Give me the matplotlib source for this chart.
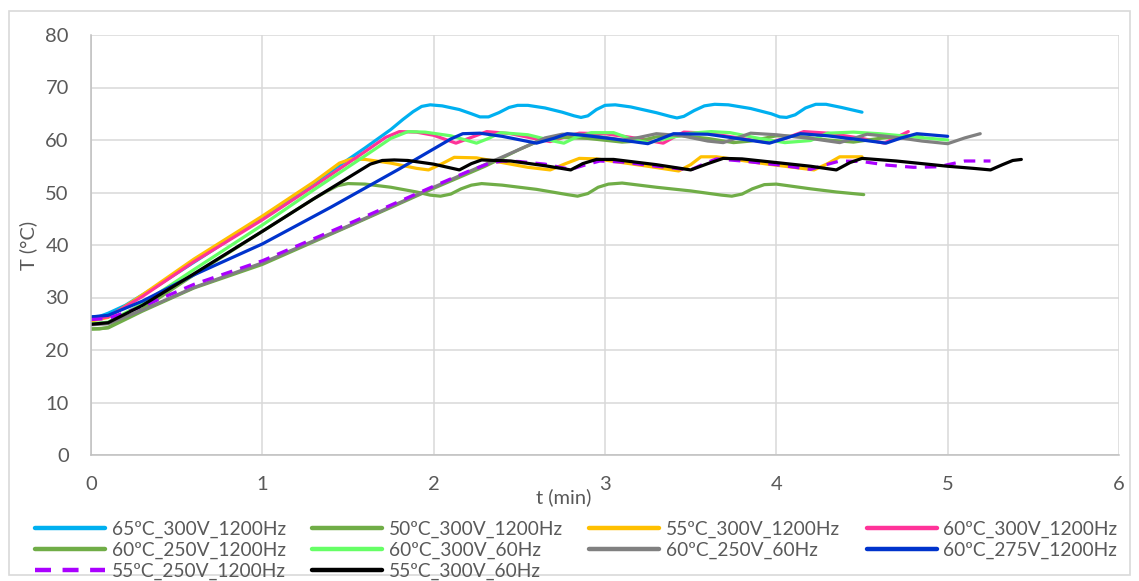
import matplotlib
matplotlib.use("Agg")
import matplotlib.pyplot as plt
from matplotlib.patches import Rectangle

# ---------------- data ----------------
t_65_300_1200 = [0, 0.05, 0.1, 0.2, 0.4, 0.7, 1.0, 1.3, 1.6, 1.75, 1.82, 1.88, 1.93, 1.98, 2.05, 2.15, 2.22, 2.27,
                 2.32, 2.38, 2.44, 2.49, 2.55, 2.65, 2.75, 2.82, 2.86, 2.9, 2.95, 3.0, 3.06, 3.15, 3.3, 3.38, 3.42,
                 3.46, 3.52, 3.58, 3.64, 3.72, 3.85, 3.97, 4.02, 4.06, 4.11, 4.17, 4.23, 4.29, 4.38, 4.5]
T_65_300_1200 = [26.3, 26.4, 27.0, 28.5, 32.5, 38.8, 45.2, 51.8, 58.5, 62.0, 63.9, 65.4, 66.4, 66.7, 66.5, 65.8, 65.0,
                 64.4, 64.4, 65.2, 66.2, 66.6, 66.6, 66.1, 65.3, 64.6, 64.3, 64.6, 65.8, 66.6, 66.7, 66.3, 65.2, 64.5,
                 64.2, 64.5, 65.6, 66.5, 66.8, 66.7, 66.0, 65.0, 64.4, 64.3, 64.8, 66.1, 66.8, 66.8, 66.2, 65.3]

t_50_300_1200 = [0, 0.05, 0.1, 0.3, 0.6, 1.0, 1.3, 1.38, 1.44, 1.5, 1.6, 1.75, 1.9, 1.98, 2.04, 2.1, 2.16, 2.22, 2.28,
                 2.4, 2.6, 2.78, 2.84, 2.9, 2.96, 3.02, 3.1, 3.3, 3.5, 3.68, 3.74, 3.8, 3.86, 3.93, 4.0, 4.2, 4.35, 4.51]
T_50_300_1200 = [24.0, 24.0, 24.3, 27.8, 34.3, 42.6, 48.8, 50.3, 51.3, 51.7, 51.6, 51.0, 50.1, 49.5, 49.3, 49.7, 50.7,
                 51.4, 51.7, 51.4, 50.6, 49.6, 49.3, 49.8, 51.0, 51.6, 51.8, 51.0, 50.3, 49.5, 49.3, 49.7, 50.7, 51.5,
                 51.6, 50.7, 50.1, 49.6]

t_55_300_1200 = [0, 0.1, 0.3, 0.6, 1.0, 1.3, 1.45, 1.52, 1.6, 1.75, 1.9, 1.97, 2.05, 2.12, 2.25, 2.4, 2.55, 2.68, 2.77,
                 2.85, 2.95, 3.1, 3.25, 3.43, 3.5, 3.56, 3.65, 3.8, 3.95, 4.1, 4.22, 4.3, 4.37, 4.5]
T_55_300_1200 = [25.5, 26.2, 30.5, 37.3, 45.5, 52.0, 55.6, 56.4, 56.3, 55.6, 54.6, 54.3, 55.5, 56.7, 56.6, 55.7, 54.8,
                 54.3, 55.5, 56.5, 56.4, 55.7, 55.0, 54.1, 55.3, 56.8, 56.8, 56.1, 55.4, 54.8, 54.3, 55.5, 56.8, 56.8]

t_60_300_1200 = [0, 0.1, 0.3, 0.6, 1.0, 1.3, 1.6, 1.72, 1.8, 1.9, 2.0, 2.13, 2.22, 2.31, 2.45, 2.6, 2.68, 2.77, 2.85,
                 3.0, 3.15, 3.34, 3.4, 3.46, 3.6, 3.8, 3.95, 4.05, 4.16, 4.3, 4.5, 4.63, 4.7, 4.77]
T_60_300_1200 = [25.8, 26.3, 30.2, 36.8, 44.8, 51.2, 57.8, 60.5, 61.6, 61.5, 60.9, 59.4, 60.5, 61.6, 61.2, 60.2, 59.7,
                 60.6, 61.3, 61.2, 60.5, 59.4, 60.5, 61.5, 61.3, 60.3, 59.5, 60.3, 61.6, 61.3, 60.3, 59.4, 60.5, 61.6]

t_60_250_1200 = [0, 0.1, 0.3, 0.6, 1.0, 1.5, 2.0, 2.3, 2.5, 2.62, 2.75, 2.9, 3.1, 3.2, 3.3, 3.45, 3.6, 3.75, 3.85,
                 4.0, 4.15, 4.3, 4.45, 4.6, 4.75, 4.85]
T_60_250_1200 = [24.0, 24.2, 27.4, 31.8, 36.3, 43.5, 50.8, 55.0, 58.2, 59.9, 60.5, 60.3, 59.6, 59.8, 60.6, 60.8, 60.3,
                 59.5, 59.8, 60.8, 60.6, 60.0, 59.6, 60.3, 60.8, 60.6]

t_60_300_60 = [0, 0.1, 0.3, 0.6, 1.0, 1.3, 1.6, 1.75, 1.85, 1.95, 2.1, 2.25, 2.32, 2.39, 2.55, 2.7, 2.76, 2.83, 2.92,
               3.05, 3.17, 3.25, 3.35, 3.5, 3.62, 3.73, 3.9, 4.05, 4.2, 4.3, 4.45, 4.6, 4.8, 5.0]
T_60_300_60 = [25.0, 25.3, 28.8, 35.3, 43.8, 50.5, 57.0, 60.3, 61.6, 61.5, 60.8, 59.4, 60.3, 61.4, 61.0, 59.8, 59.4,
               60.5, 61.4, 61.4, 60.0, 59.5, 60.2, 61.3, 61.6, 61.4, 60.3, 59.5, 59.9, 61.3, 61.5, 61.2, 60.6, 60.0]

t_60_250_60 = [0, 0.1, 0.3, 0.6, 1.0, 1.5, 2.0, 2.27, 2.5, 2.65, 2.75, 2.85, 3.0, 3.1, 3.2, 3.3, 3.45, 3.6, 3.69,
               3.78, 3.85, 4.0, 4.2, 4.37, 4.45, 4.53, 4.7, 4.85, 5.0, 5.1, 5.19]
T_60_250_60 = [24.8, 25.0, 27.6, 31.9, 36.6, 43.6, 51.0, 54.9, 58.2, 60.4, 61.1, 61.1, 60.5, 60.0, 60.5, 61.2, 60.8,
               59.8, 59.5, 60.5, 61.3, 61.0, 60.3, 59.5, 60.3, 61.1, 60.5, 59.8, 59.3, 60.4, 61.2]

t_60_275_1200 = [0, 0.1, 0.3, 0.6, 1.0, 1.4, 1.8, 2.0, 2.1, 2.17, 2.27, 2.4, 2.6, 2.7, 2.78, 2.9, 3.05, 3.25, 3.33,
                 3.4, 3.6, 3.75, 3.96, 4.05, 4.14, 4.3, 4.5, 4.64, 4.73, 4.82, 5.0]
T_60_275_1200 = [26.3, 26.6, 29.3, 34.3, 40.2, 47.2, 54.5, 58.3, 60.2, 61.2, 61.3, 60.7, 59.4, 60.3, 61.2, 60.8, 60.2,
                 59.3, 60.3, 61.2, 61.1, 60.4, 59.4, 60.3, 61.2, 60.8, 60.0, 59.4, 60.4, 61.2, 60.7]

t_55_250_1200 = [0, 0.1, 0.3, 0.6, 1.0, 1.5, 2.0, 2.2, 2.32, 2.4, 2.5, 2.65, 2.8, 2.88, 2.97, 3.1, 3.3, 3.5, 3.58,
                 3.65, 3.8, 4.0, 4.2, 4.28, 4.37, 4.5, 4.65, 4.8, 4.95, 5.0, 5.1, 5.25]
T_55_250_1200 = [25.8, 26.0, 28.3, 32.5, 37.0, 44.0, 51.2, 54.0, 55.5, 56.0, 55.9, 55.4, 54.4, 55.2, 56.0, 55.8, 55.0,
                 54.3, 55.5, 56.4, 56.0, 55.3, 54.4, 55.2, 56.0, 55.9, 55.2, 54.8, 54.9, 55.3, 56.0, 56.0]

t_55_300_60 = [0, 0.1, 0.3, 0.6, 1.0, 1.3, 1.55, 1.63, 1.7, 1.77, 1.85, 2.0, 2.15, 2.22, 2.28, 2.45, 2.65, 2.8, 2.87,
               2.95, 3.05, 3.3, 3.5, 3.6, 3.69, 3.8, 4.0, 4.2, 4.35, 4.43, 4.5, 4.7, 5.0, 5.15, 5.25, 5.32, 5.38, 5.43]
T_55_300_60 = [24.9, 25.2, 28.5, 34.5, 42.6, 48.8, 53.8, 55.4, 56.1, 56.2, 56.1, 55.4, 54.3, 55.5, 56.2, 56.0, 55.1,
               54.3, 55.5, 56.3, 56.3, 55.3, 54.3, 55.5, 56.5, 56.4, 55.7, 55.0, 54.3, 55.7, 56.5, 56.0, 55.0, 54.6,
               54.3, 55.3, 56.1, 56.3]

labels = ["65ºC_300V_1200Hz", "50ºC_300V_1200Hz", "55ºC_300V_1200Hz", "60ºC_300V_1200Hz",
          "60ºC_250V_1200Hz", "60ºC_300V_60Hz", "60ºC_250V_60Hz", "60ºC_275V_1200Hz",
          "55ºC_250V_1200Hz", "55ºC_300V_60Hz"]
series_t = [t_65_300_1200, t_50_300_1200, t_55_300_1200, t_60_300_1200, t_60_250_1200,
            t_60_300_60, t_60_250_60, t_60_275_1200, t_55_250_1200, t_55_300_60]
series_T = [T_65_300_1200, T_50_300_1200, T_55_300_1200, T_60_300_1200, T_60_250_1200,
            T_60_300_60, T_60_250_60, T_60_275_1200, T_55_250_1200, T_55_300_60]
colors = ["#00B0F0", "#70AD47", "#FFC000", "#FF3399", "#70AD47",
          "#66FF66", "#808080", "#0033CC", "#AA00FF", "#000000"]
styles = ["-", "-", "-", "-", "-", "-", "-", "-", (0, (3.6, 2.6)), "-"]

x_ticks = [0, 1, 2, 3, 4, 5, 6]
y_ticks = [0, 10, 20, 30, 40, 50, 60, 70, 80]

# ---------------- figure ----------------
plt.rcParams['font.family'] = ['Lato', 'DejaVu Sans']
txt = "#595959"

fig = plt.figure(figsize=(11.39, 5.81), dpi=100)
ax = fig.add_axes([91 / 1139, 1 - 455 / 581, (1119 - 91) / 1139, (455 - 35) / 581])

fig.patches.append(Rectangle((9 / 1139, 6 / 581), 1121 / 1139, 564 / 581, transform=fig.transFigure,
                             fill=False, edgecolor="#D9D9D9", linewidth=1.2))

handles = []
for t, T, c, ls, lab in zip(series_t, series_T, colors, styles, labels):
    h, = ax.plot(t, T, color=c, linestyle=ls, linewidth=2.3, label=lab,
                 solid_capstyle='round', solid_joinstyle='round')
    handles.append(h)

ax.set_xlim(0, 6)
ax.set_ylim(0, 80)
ax.set_xticks(x_ticks)
ax.set_yticks(y_ticks)
ax.grid(True, color="#D9D9D9", linewidth=1.1)
ax.set_axisbelow(True)
for s in ["top", "right"]:
    ax.spines[s].set_visible(False)
for s in ["left", "bottom"]:
    ax.spines[s].set_color("#BFBFBF")
    ax.spines[s].set_linewidth(1.1)
ax.tick_params(length=0, labelsize=14.5, labelcolor=txt)
ax.tick_params(axis='y', pad=16)
ax.tick_params(axis='x', pad=15)

ax.set_ylabel("T (°C)", fontsize=14.5, color=txt, labelpad=6)
ax.set_xlabel("t (min)", fontsize=14.5, color=txt)
ax.xaxis.set_label_coords((564 - 91) / (1119 - 91), -0.078)

order = [0, 4, 8, 1, 5, 9, 2, 6, 3, 7]
leg = fig.legend([handles[i] for i in order], [labels[i] for i in order], ncol=4,
                 loc='upper left', bbox_to_anchor=(35 / 1139, 1 - 521 / 581),
                 frameon=False, fontsize=13.8, handlelength=3.65, handletextpad=0.35,
                 columnspacing=1.38, labelspacing=0.18, borderpad=0, borderaxespad=0)
for tx in leg.get_texts():
    tx.set_color(txt)
for lh in leg.get_lines():
    lh.set_linewidth(3.2)

fig.savefig("out.png", dpi=100)
